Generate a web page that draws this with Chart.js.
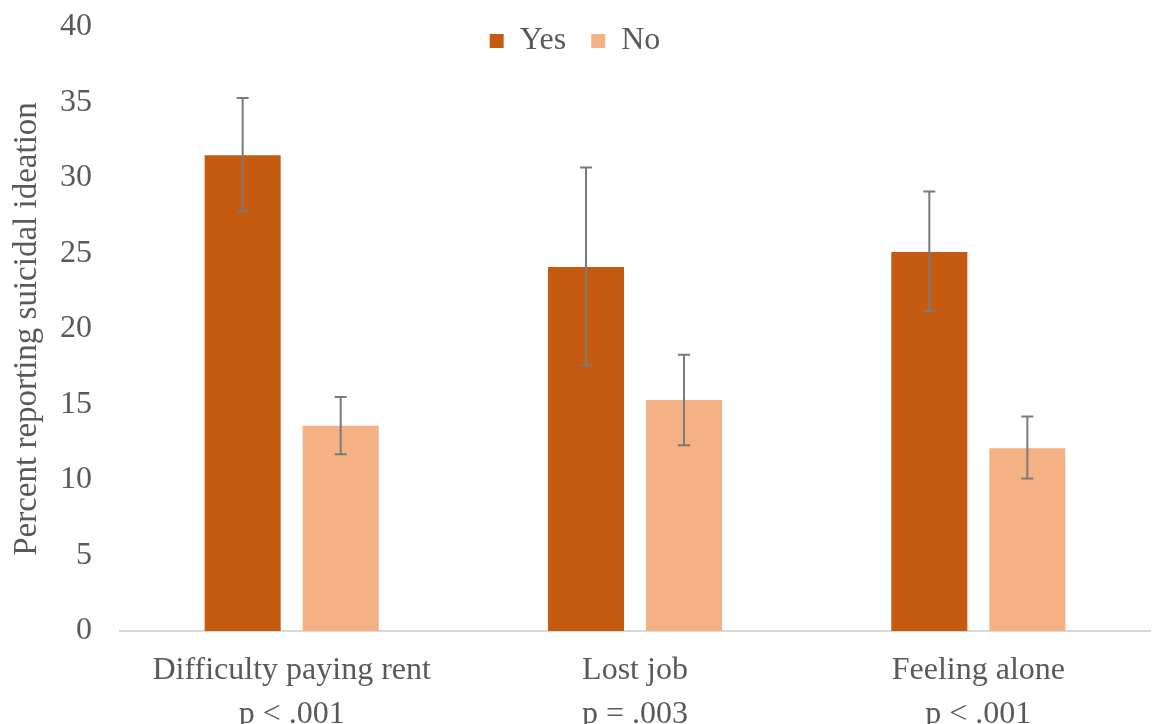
<!DOCTYPE html>
<html>
<head>
<meta charset="utf-8">
<script src="https://cdn.jsdelivr.net/npm/chart.js@4"></script>
<style>
  html, body { margin: 0; padding: 0; background: #fff; overflow: hidden; }
  #wrap { width: 1152px; height: 754px; }
</style>
</head>
<body>
<div id="wrap"><canvas id="ideationChart"></canvas></div>
<script>
/* ------------------------------------------------------------
   Données
------------------------------------------------------------ */
const categories = [
    ['Difficulty paying rent', 'p < .001'],
    ['Lost job', 'p = .003'],
    ['Feeling alone', 'p < .001']
];
const yesValues = [31.5, 24.1, 25.1];
const noValues  = [13.6, 15.3, 12.1];
const yesLow  = [27.8, 17.6, 21.2];
const yesHigh = [35.3, 30.7, 29.1];
const noLow   = [11.7, 12.3, 10.1];
const noHigh  = [15.5, 18.3, 14.2];

const TEXT = '#595959';
const SERIF = '"Liberation Serif", "Times New Roman", serif';

/* ------------------------------------------------------------
   Barres d'erreur – plugin maison
------------------------------------------------------------ */
const errorBars = {
    id: 'errorBars',
    afterDatasetsDraw(chart) {
        const { ctx, scales: { y } } = chart;
        const ranges = [[yesLow, yesHigh], [noLow, noHigh]];
        ctx.save();
        ctx.strokeStyle = '#7a7a7a';
        ctx.lineWidth = 2;
        ranges.forEach(([lo, hi], i) => {
            chart.getDatasetMeta(i).data.forEach((bar, j) => {
                const x = bar.x, y1 = y.getPixelForValue(lo[j]), y2 = y.getPixelForValue(hi[j]);
                ctx.beginPath();
                ctx.moveTo(x, y1); ctx.lineTo(x, y2);
                ctx.moveTo(x - 6, y1); ctx.lineTo(x + 6, y1);
                ctx.moveTo(x - 6, y2); ctx.lineTo(x + 6, y2);
                ctx.stroke();
            });
        });
        ctx.restore();
    }
};

/* ------------------------------------------------------------
   Légende qui chevauche le haut de la zone de tracé
   (hauteur nulle pendant la mise en page, rendue ensuite)
------------------------------------------------------------ */
const legendOverlap = {
    id: 'legendOverlap',
    beforeInit(chart) {
        const legend = chart.legend;
        if (!legend) return;
        const fit = legend.fit;
        legend.fit = function () {
            fit.call(this);
            this._fullHeight = this.height;
            this.height = 0;
        };
    },
    afterLayout(chart) {
        const legend = chart.legend;
        if (!legend || legend._fullHeight == null) return;
        legend.top = 0;
        legend.height = legend._fullHeight;
        legend.bottom = legend.top + legend._fullHeight;
    }
};

new Chart(document.getElementById('ideationChart'), {
    type: 'bar',
    data: {
        labels: categories,
        datasets: [
            { label: 'Yes', data: yesValues, backgroundColor: '#C55A11' },
            { label: 'No',  data: noValues,  backgroundColor: '#F4B183' }
        ]
    },
    options: {
        responsive: true,
        maintainAspectRatio: false,
        animation: false,
        datasets: { bar: { categoryPercentage: 0.571, barPercentage: 0.776 } },
        layout: { padding: { top: 0, right: 2, left: 0, bottom: 0 } },
        plugins: {
            legend: {
                position: 'top',
                labels: {
                    boxWidth: 14, boxHeight: 14, padding: 25,
                    color: TEXT, font: { family: SERIF, size: 32 }
                }
            },
            tooltip: { enabled: false }
        },
        scales: {
            x: {
                afterFit(scale) { scale.height = 123; },
                grid: { display: false, drawTicks: false },
                border: { display: true, color: '#d9d9d9', width: 2 },
                ticks: {
                    color: TEXT, padding: 18,
                    font: { family: SERIF, size: 32, lineHeight: 1.375 }
                }
            },
            y: {
                min: 0, max: 40,
                afterFit(scale) {
                    scale.width = 120;
                    scale.paddingTop = 27;
                    scale.paddingBottom = 0;
                },
                grid: { display: false, drawTicks: false },
                border: { display: false },
                ticks: {
                    stepSize: 5, color: TEXT, padding: 28,
                    font: { family: SERIF, size: 32 }
                },
                title: {
                    display: true, text: 'Percent reporting suicidal ideation',
                    color: TEXT, padding: { top: 8, bottom: 0 },
                    font: { family: SERIF, size: 33 }
                }
            }
        }
    },
    plugins: [errorBars, legendOverlap]
});
</script>
</body>
</html>
